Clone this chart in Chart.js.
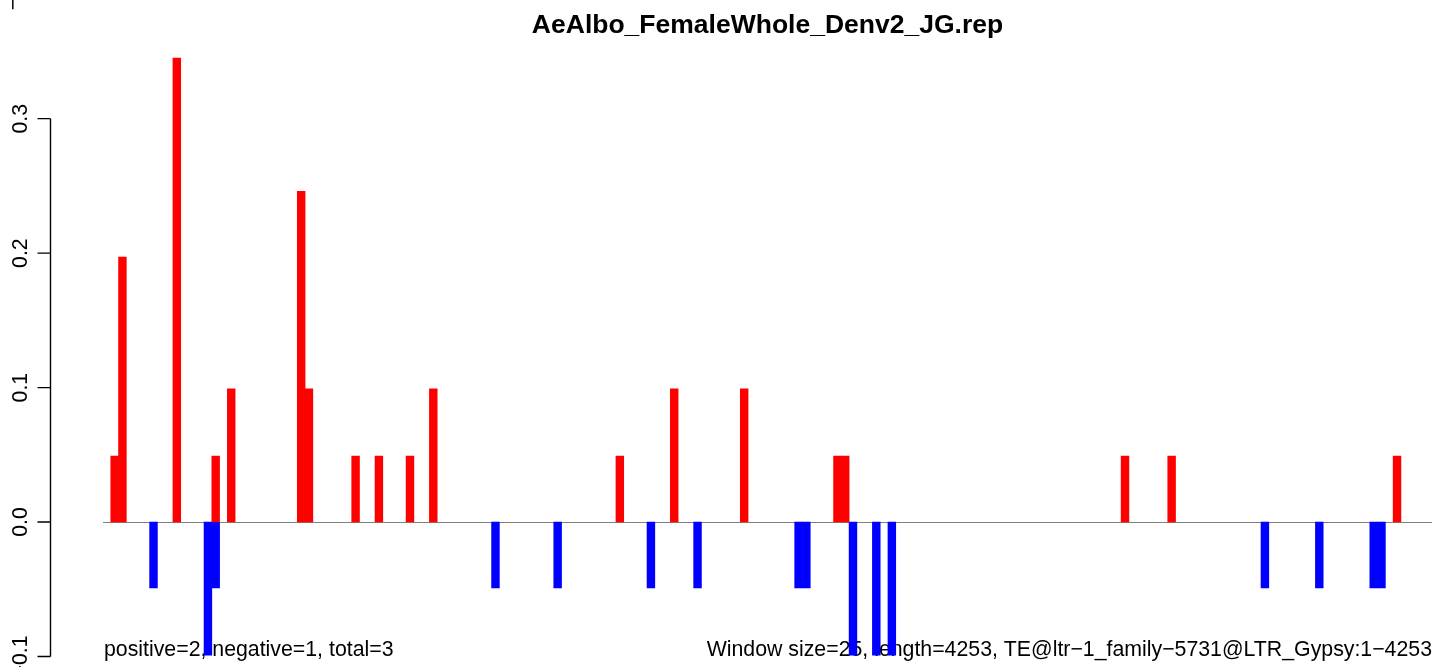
<!DOCTYPE html>
<html>
<head>
<meta charset="utf-8">
<script src="https://cdn.jsdelivr.net/npm/chart.js@4.4.0/dist/chart.umd.min.js"></script>
<style>
    html, body { margin: 0; padding: 0; background: #fff; }
    #wrap { width: 1444px; height: 667px; }
</style>
</head>
<body>
<div id="wrap"><canvas id="repgraph" width="1444" height="667"></canvas></div>
<script>
(function(){
    const windowSize = 25;
    const seqLength = 4253;
    // windows (index of 25bp window) with a positive / negative value
    const posWindows = [1, 2, 9, 14, 16, 25, 26, 32, 35, 39, 42, 66, 73, 82, 94, 95, 131, 137, 166];
    const posValues = [0.049, 0.197, 0.345, 0.049, 0.099, 0.246, 0.099, 0.049, 0.049, 0.049, 0.099, 0.049, 0.099, 0.099, 0.049, 0.049, 0.049, 0.049, 0.049];
    const negWindows = [6, 13, 14, 50, 58, 70, 76, 89, 90, 96, 99, 101, 149, 156, 163, 164];
    const negValues = [-0.049, -0.099, -0.049, -0.049, -0.049, -0.049, -0.049, -0.049, -0.049, -0.099, -0.099, -0.099, -0.049, -0.049, -0.049, -0.049];
    const yTicks = [-0.1, 0, 0.1, 0.2, 0.3];
    const yTickLabels = ["\u22120.1", "0.0", "0.1", "0.2", "0.3"];

    const title = "AeAlbo_FemaleWhole_Denv2_JG.rep";
    const leftNote = "positive=2, negative=1, total=3";
    const rightNote = "Window size=25, length=4253, TE@ltr\u22121_family\u22125731@LTR_Gypsy:1\u22124253";

    const nWindows = Math.ceil(seqLength / windowSize);
    let labels = [], pos = [], neg = [];
    for (let i = 0; i < nWindows; i++) {
        labels.push(i * windowSize);
        pos.push(null);
        neg.push(null);
    }
    posWindows.forEach(function (w, k) { pos[w] = posValues[k]; });
    negWindows.forEach(function (w, k) { neg[w] = negValues[k]; });

    const font = '"Liberation Sans", Arial, Helvetica, sans-serif';

    const rPlot = {
        id: 'rPlot',
        beforeDatasetsDraw(chart) {
            const ctx = chart.ctx, area = chart.chartArea, y = chart.scales.y;
            ctx.save();
            // zero line
            const y0 = Math.round(y.getPixelForValue(0)) + 0.5;
            ctx.strokeStyle = '#808080';
            ctx.lineWidth = 1.2;
            ctx.beginPath();
            ctx.moveTo(area.left, y0);
            ctx.lineTo(area.right, y0);
            ctx.stroke();
            // notes under the bars
            ctx.fillStyle = '#000';
            ctx.font = '21.3px ' + font;
            ctx.textBaseline = 'alphabetic';
            ctx.textAlign = 'left';
            ctx.fillText(leftNote, area.left + 1, 656);
            ctx.textAlign = 'right';
            ctx.fillText(rightNote, area.right, 656);
            ctx.restore();
        },
        afterDraw(chart) {
            const ctx = chart.ctx, area = chart.chartArea, y = chart.scales.y;
            ctx.save();
            ctx.fillStyle = '#000';
            ctx.font = 'bold 26.5px ' + font;
            ctx.textAlign = 'center';
            ctx.textBaseline = 'alphabetic';
            ctx.fillText(title, (area.left + area.right) / 2, 33);

            // y axis, R style
            const ax = 50.5;
            ctx.strokeStyle = '#000';
            ctx.lineWidth = 1.4;
            ctx.beginPath();
            ctx.moveTo(ax, y.getPixelForValue(yTicks[yTicks.length - 1]));
            ctx.lineTo(ax, y.getPixelForValue(yTicks[0]));
            yTicks.forEach(function (t) {
                const py = y.getPixelForValue(t);
                ctx.moveTo(ax, py);
                ctx.lineTo(37.5, py);
            });
            ctx.stroke();
            ctx.font = '21.3px ' + font;
            ctx.textAlign = 'center';
            yTicks.forEach(function (t, k) {
                ctx.save();
                ctx.translate(27, y.getPixelForValue(t));
                ctx.rotate(-Math.PI / 2);
                ctx.fillText(yTickLabels[k], 0, 0);
                ctx.restore();
            });
            // stray minus from the panel above
            ctx.save();
            ctx.translate(20, 4);
            ctx.rotate(-Math.PI / 2);
            ctx.fillText("\u2212", 0, 0);
            ctx.restore();
            ctx.restore();
        }
    };

    const ctx = document.getElementById("repgraph");
    new Chart(ctx, {
        type: "bar",
        data: {
            labels: labels,
            datasets: [
                {
                    label: "positive",
                    data: pos,
                    backgroundColor: "#ff0000",
                    borderWidth: 0,
                },
                {
                    label: "negative",
                    data: neg,
                    backgroundColor: "#0000ff",
                    borderWidth: 0,
                },
            ],
        },
        options: {
            responsive: false,
            animation: false,
            devicePixelRatio: 1,
            layout: { padding: { left: 103, right: 12, top: 38, bottom: 10.5 } },
            datasets: {
                bar: { grouped: false, barPercentage: 1, categoryPercentage: 1 },
            },
            plugins: {
                legend: { display: false },
                title: { display: false },
                tooltip: { enabled: false },
            },
            scales: {
                x: { display: false, offset: true },
                y: { display: false, min: -0.1, max: 0.36 },
            },
        },
        plugins: [rPlot],
    });
})()
</script>
</body>
</html>
